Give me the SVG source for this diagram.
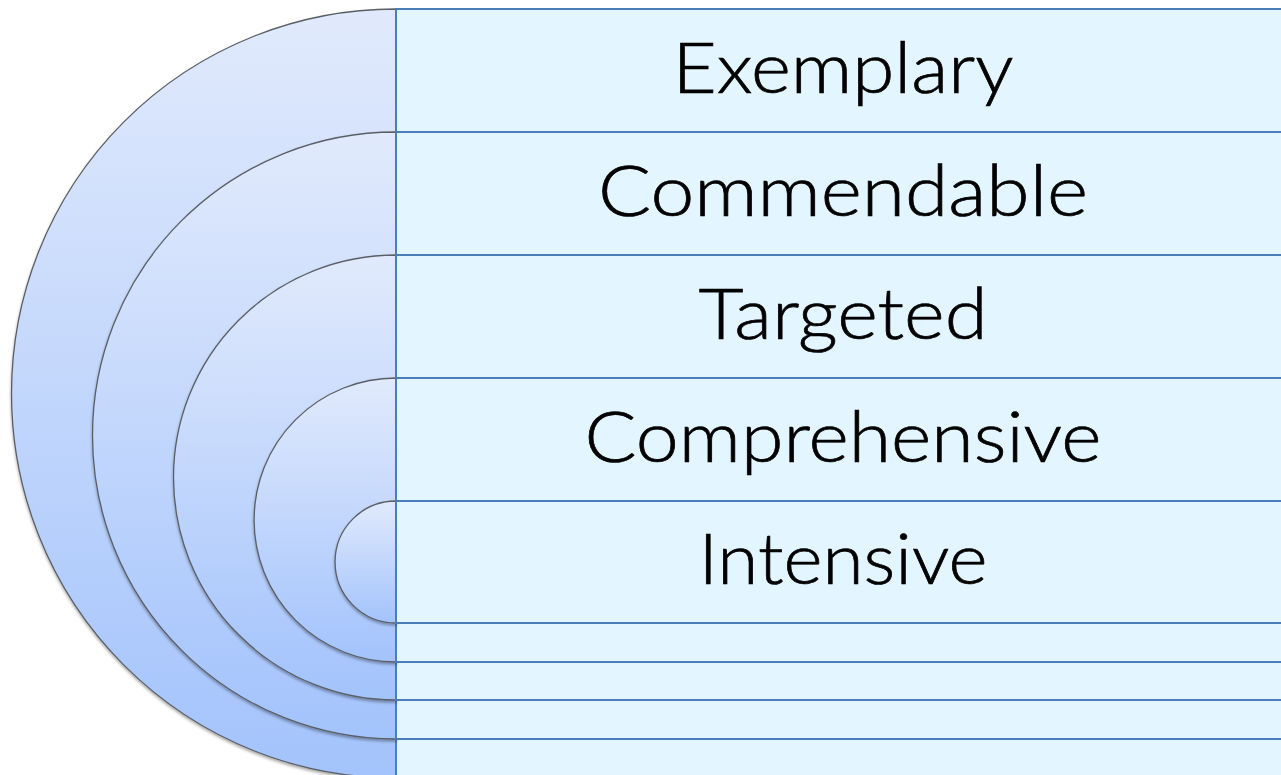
<svg xmlns="http://www.w3.org/2000/svg" width="1281" height="775" viewBox="0 0 1281 775">
<style>
.half{stroke:#5a5f66;stroke-width:1.3;fill:url(#g);filter:url(#sh)}
.box{fill:#e3f5fe;stroke:#4a7ebb;stroke-width:2}
.lbl{font-family:Lato,"Noto Sans",sans-serif;font-weight:300;font-size:70px;fill:#000;stroke:#000;stroke-width:0.7;text-anchor:middle}
</style>
<defs>
<linearGradient id="g" x1="0" y1="0" x2="0" y2="1">
<stop offset="0" stop-color="#e1eafc"/>
<stop offset="1" stop-color="#a3c3fc"/>
</linearGradient>
<filter id="sh" x="-10%" y="-10%" width="130%" height="130%">
<feDropShadow dx="0" dy="2" stdDeviation="1.8" flood-color="#000" flood-opacity="0.35"/>
</filter>
</defs>
<rect width="1281" height="775" fill="#fff"/>
<g id="level1">
<path class="half" d="M396,9 A384.5,384.5 0 0 0 396,778 Z"/>
<rect class="box" x="396" y="9" width="900" height="769"/>
<text class="lbl" x="843" y="93" textLength="341" lengthAdjust="spacingAndGlyphs">Exemplary</text>
</g>
<g id="level2">
<path class="half" d="M396,132 A303.5,303.5 0 0 0 396,739 Z"/>
<rect class="box" x="396" y="132" width="900" height="607"/>
<text class="lbl" x="843" y="216" textLength="490" lengthAdjust="spacingAndGlyphs">Commendable</text>
</g>
<g id="level3">
<path class="half" d="M396,255 A222.5,222.5 0 0 0 396,700 Z"/>
<rect class="box" x="396" y="255" width="900" height="445"/>
<text class="lbl" x="843" y="339" textLength="289" lengthAdjust="spacingAndGlyphs">Targeted</text>
</g>
<g id="level4">
<path class="half" d="M396,378 A142,142 0 0 0 396,662 Z"/>
<rect class="box" x="396" y="378" width="900" height="284"/>
<text class="lbl" x="843" y="462" textLength="517" lengthAdjust="spacingAndGlyphs">Comprehensive</text>
</g>
<g id="level5">
<path class="half" d="M396,501 A61,61 0 0 0 396,623 Z"/>
<rect class="box" x="396" y="501" width="900" height="122"/>
<text class="lbl" x="843" y="584" textLength="289" lengthAdjust="spacingAndGlyphs">Intensive</text>
</g>
<g id="connectors"></g>
</svg>
